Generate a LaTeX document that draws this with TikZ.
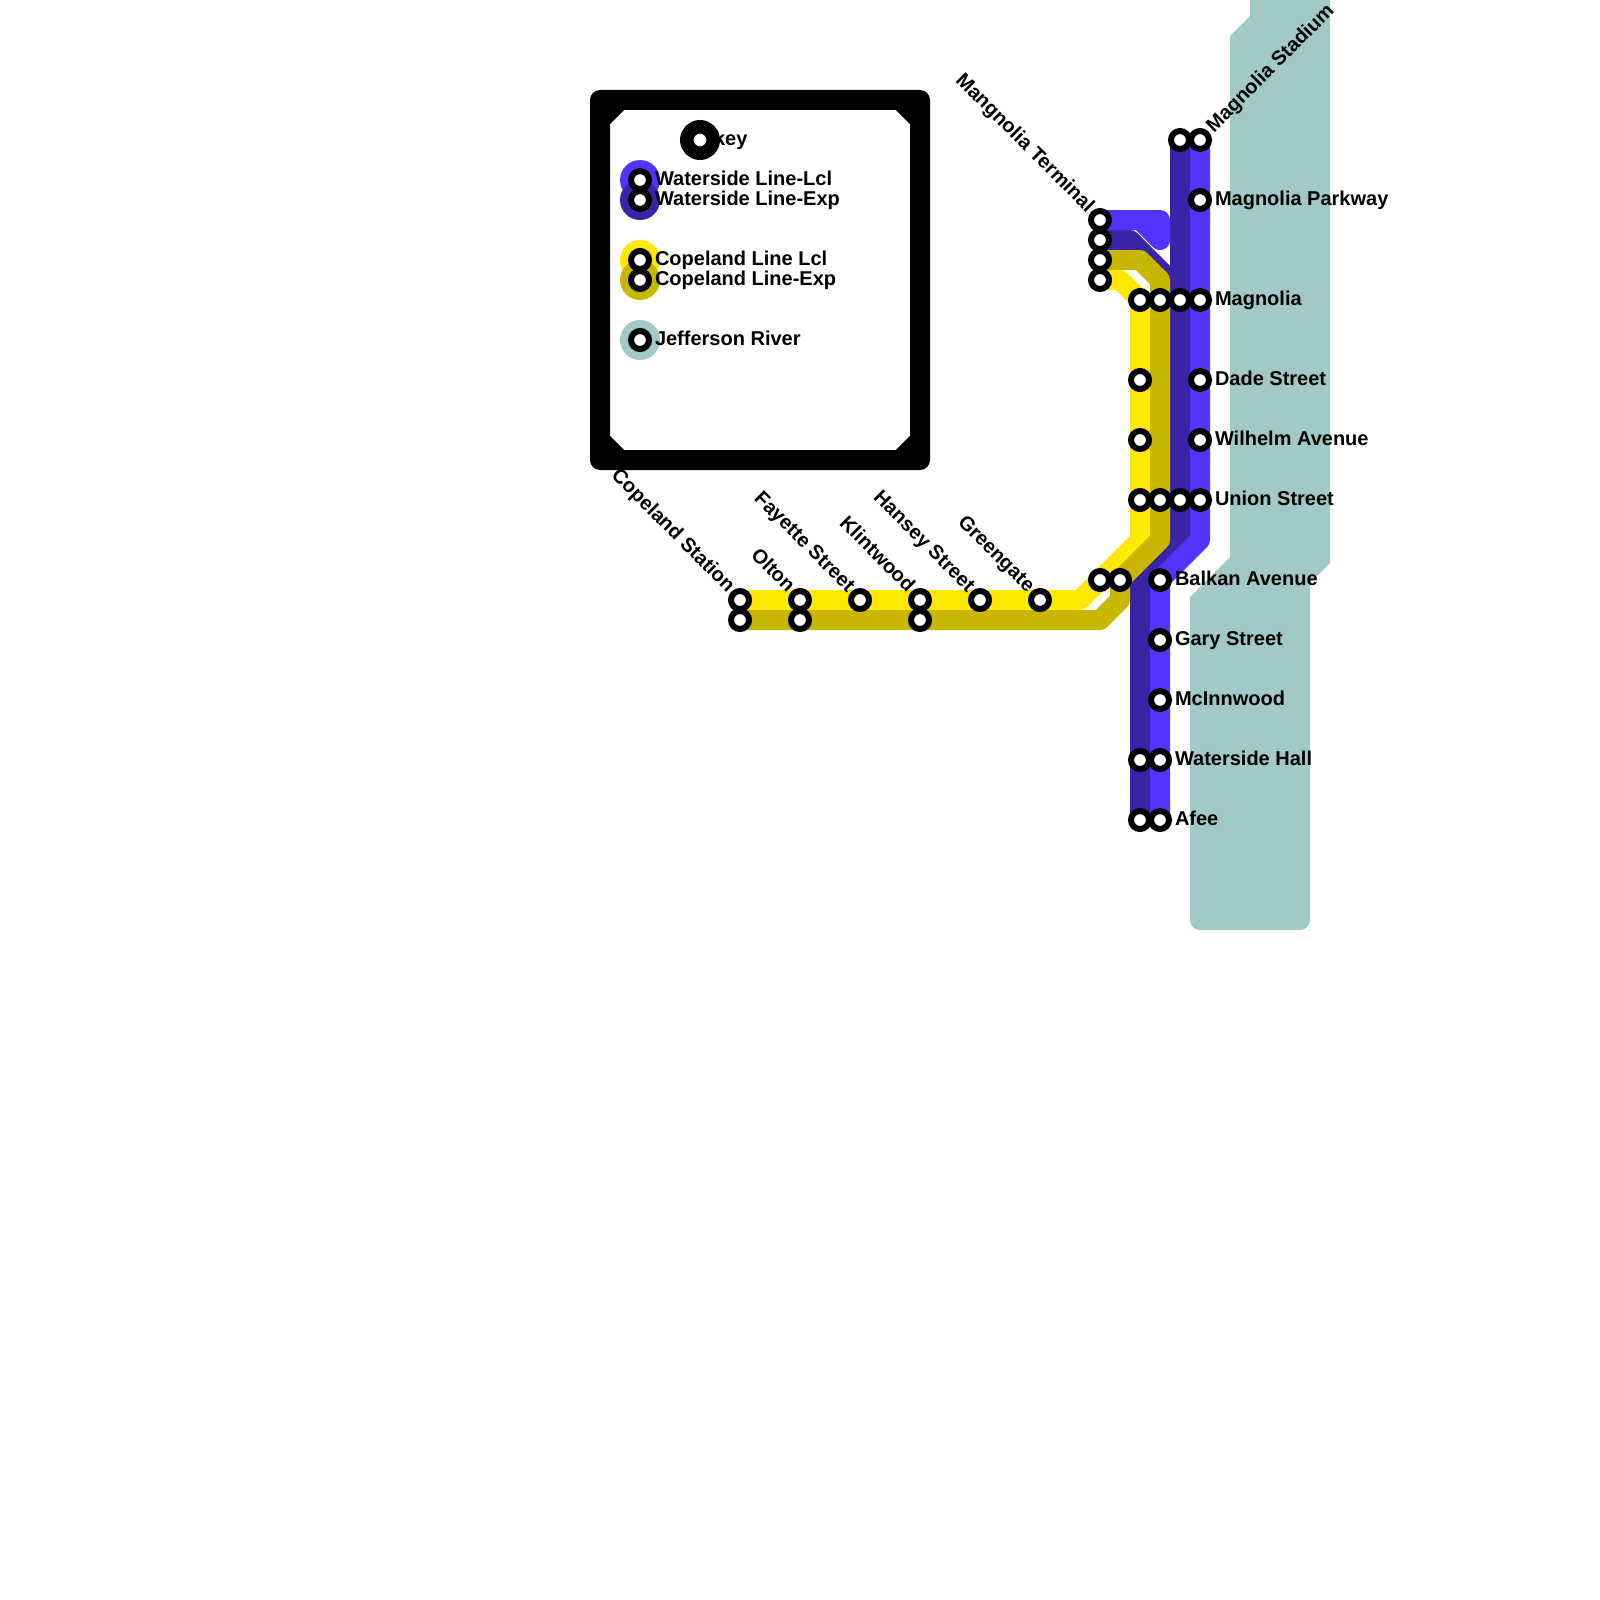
\documentclass[tikz,border=0pt]{standalone}
\usepackage{xcolor}
\usepackage{fontspec}
\setmainfont{Liberation Sans}
\usepackage{tikz}
\usetikzlibrary{backgrounds}
\definecolor{waterlcl}{HTML}{5533FF}
\definecolor{waterexp}{HTML}{3B23A8}
\definecolor{copelcl}{HTML}{FFE900}
\definecolor{copeexp}{HTML}{C8B600}
\definecolor{jeffriver}{HTML}{A0C9C8}
\tikzset{
  stn/.style={circle, draw=black, fill=white, line width=6pt, minimum size=18pt, inner sep=0pt, outer sep=0pt},
  keystn/.style={circle, draw=black, fill=white, line width=13.5pt, minimum size=26.5pt, inner sep=0pt, outer sep=0pt},
  swatch/.style={circle, minimum size=40pt, inner sep=0pt, outer sep=0pt},
  lbl/.style={font=\fontsize{20}{24}\selectfont\bfseries, inner sep=0pt, outer sep=0pt, anchor=base west},
  lbldown/.style={lbl, anchor=base east, rotate=-45},
  lblup/.style={lbl, rotate=45},
  railline/.style={line width=20pt, line cap=round, line join=round},
  keyline/.style={draw=black, line width=20pt, line join=round},
}

\begin{document}
\begin{tikzpicture}[x=1pt, y=-1pt]
    \useasboundingbox (0,0) rectangle (1600,1600);

    % key frame
    \draw[keyline] (600,100) rectangle (920,460)
      (600,120) -- (620,100) (900,100) -- (920,120)
      (920,440) -- (900,460) (620,460) -- (600,440);

    % key swatches
    \node[swatch, fill=waterlcl] (swatchWaterLcl) at (640,180) {};
    \node[swatch, fill=waterexp] (swatchWaterExp) at (640,200) {};
    \node[swatch, fill=copelcl] (swatchCopeLcl) at (640,260) {};
    \node[swatch, fill=copeexp] (swatchCopeExp) at (640,280) {};
    \node[swatch, fill=jeffriver] (swatchRiver) at (640,340) {};

    % key texts
    \node[lbl] (keyTxt) at (714,145.5) {key};
    \node[lbl] (waterLclTxt) at (655,185) {Waterside Line-Lcl};
    \node[lbl] (waterExpTxt) at (655,205) {Waterside Line-Exp};
    \node[lbl] (copeLclTxt) at (655,265) {Copeland Line Lcl};
    \node[lbl] (copeExpTxt) at (655,285) {Copeland Line-Exp};
    \node[lbl] (riverTxt) at (655,345) {Jefferson River};

    % key stations
    \node[keystn] (keyStn) at (700,140) {};
    \node[stn] (keyWaterLcl) at (640,180) {};
    \node[stn] (keyWaterExp) at (640,200) {};
    \node[stn] (keyCopeLcl) at (640,260) {};
    \node[stn] (keyCopeExp) at (640,280) {};
    \node[stn] (keyRiver) at (640,340) {};

    % station names, east side
    \node[lblup] (stadiumTxt) at (1214,133) {Magnolia Stadium};
    \node[lbl] (parkwayTxt) at (1215,205) {Magnolia Parkway};
    \node[lbl] (magnoliaTxt) at (1215,305) {Magnolia};
    \node[lbl] (dadeTxt) at (1215,385) {Dade Street};
    \node[lbl] (wilhelmTxt) at (1215,445) {Wilhelm Avenue};
    \node[lbl] (unionTxt) at (1215,505) {Union Street};
    \node[lbl] (balkanTxt) at (1175,585) {Balkan Avenue};
    \node[lbl] (garyTxt) at (1175,645) {Gary Street};
    \node[lbl] (mcinnTxt) at (1175,705) {McInnwood};
    \node[lbl] (hallTxt) at (1175,765) {Waterside Hall};
    \node[lbl] (afeeTxt) at (1175,825) {Afee};

    % station names, slanted
    \node[lbldown] (terminalTxt) at (1086.5,213) {Mangnolia Terminal};
    \node[lbldown] (copelandTxt) at (727,593) {Copeland Station};
    \node[lbldown] (oltonTxt) at (787,593) {Olton};
    \node[lbldown] (fayetteTxt) at (847,593) {Fayette Street};
    \node[lbldown] (klintTxt) at (907,593) {Klintwood};
    \node[lbldown] (hanseyTxt) at (967,593) {Hansey Street};
    \node[lbldown] (greenTxt) at (1027,593) {Greengate};

    % stations
    \node[stn] (stadiumExp) at (1180,140) {};
    \node[stn] (stadiumLcl) at (1200,140) {};
    \node[stn] (parkway) at (1200,200) {};
    \node[stn] (terminalA) at (1100,220) {};
    \node[stn] (terminalB) at (1100,240) {};
    \node[stn] (terminalC) at (1100,260) {};
    \node[stn] (terminalD) at (1100,280) {};
    \node[stn] (magnoliaA) at (1140,300) {};
    \node[stn] (magnoliaB) at (1160,300) {};
    \node[stn] (magnoliaC) at (1180,300) {};
    \node[stn] (magnoliaD) at (1200,300) {};
    \node[stn] (dadeA) at (1140,380) {};
    \node[stn] (dadeB) at (1200,380) {};
    \node[stn] (wilhelmA) at (1140,440) {};
    \node[stn] (wilhelmB) at (1200,440) {};
    \node[stn] (unionA) at (1140,500) {};
    \node[stn] (unionB) at (1160,500) {};
    \node[stn] (unionC) at (1180,500) {};
    \node[stn] (unionD) at (1200,500) {};
    \node[stn] (balkanA) at (1100,580) {};
    \node[stn] (balkanB) at (1120,580) {};
    \node[stn] (balkanC) at (1160,580) {};
    \node[stn] (gary) at (1160,640) {};
    \node[stn] (mcinn) at (1160,700) {};
    \node[stn] (hallExp) at (1140,760) {};
    \node[stn] (hallLcl) at (1160,760) {};
    \node[stn] (afeeExp) at (1140,820) {};
    \node[stn] (afeeLcl) at (1160,820) {};
    \node[stn] (copelandLcl) at (740,600) {};
    \node[stn] (copelandExp) at (740,620) {};
    \node[stn] (oltonLcl) at (800,600) {};
    \node[stn] (oltonExp) at (800,620) {};
    \node[stn] (fayette) at (860,600) {};
    \node[stn] (klintLcl) at (920,600) {};
    \node[stn] (klintExp) at (920,620) {};
    \node[stn] (hansey) at (980,600) {};
    \node[stn] (green) at (1040,600) {};
    \coordinate (terminalEnd) at (1160,240);

    \begin{scope}[on background layer]
      \fill[white] (0,0) rectangle (1600,1600);

      % river
      \fill[jeffriver] (1250,0) -- (1330,0) -- (1330,563) -- (1310,583)
        [rounded corners=10pt] -- (1310,930) -- (1190,930) [sharp corners] -- (1190,597)
        -- (1230,557) -- (1230,36) -- (1250,16) -- cycle;

      % lines
      \draw[railline, waterexp] (terminalB.center) -- (1130,240) -- (1180,290);
      \draw[railline, waterexp] (stadiumExp.center) -- (1180,540) -- (1140,580) -- (afeeExp.center);
      \draw[railline, waterlcl] (terminalA.center) -- (1160,220) -- (terminalEnd) -- (1140,220);
      \draw[railline, waterlcl] (stadiumLcl.center) -- (1200,540) -- (1160,580) -- (afeeLcl.center);
      \draw[railline, copelcl] (terminalD.center) -- (1120,280) -- (magnoliaA.center)
        -- (1140,540) -- (1080,600) -- (copelandLcl.center);
      \draw[railline, copeexp] (terminalC.center) -- (1140,260) -- (1160,280)
        -- (1160,540) -- (balkanB.center) -- (1120,600) -- (1100,620) -- (copelandExp.center);
    \end{scope}
  \end{tikzpicture}
\end{document}
